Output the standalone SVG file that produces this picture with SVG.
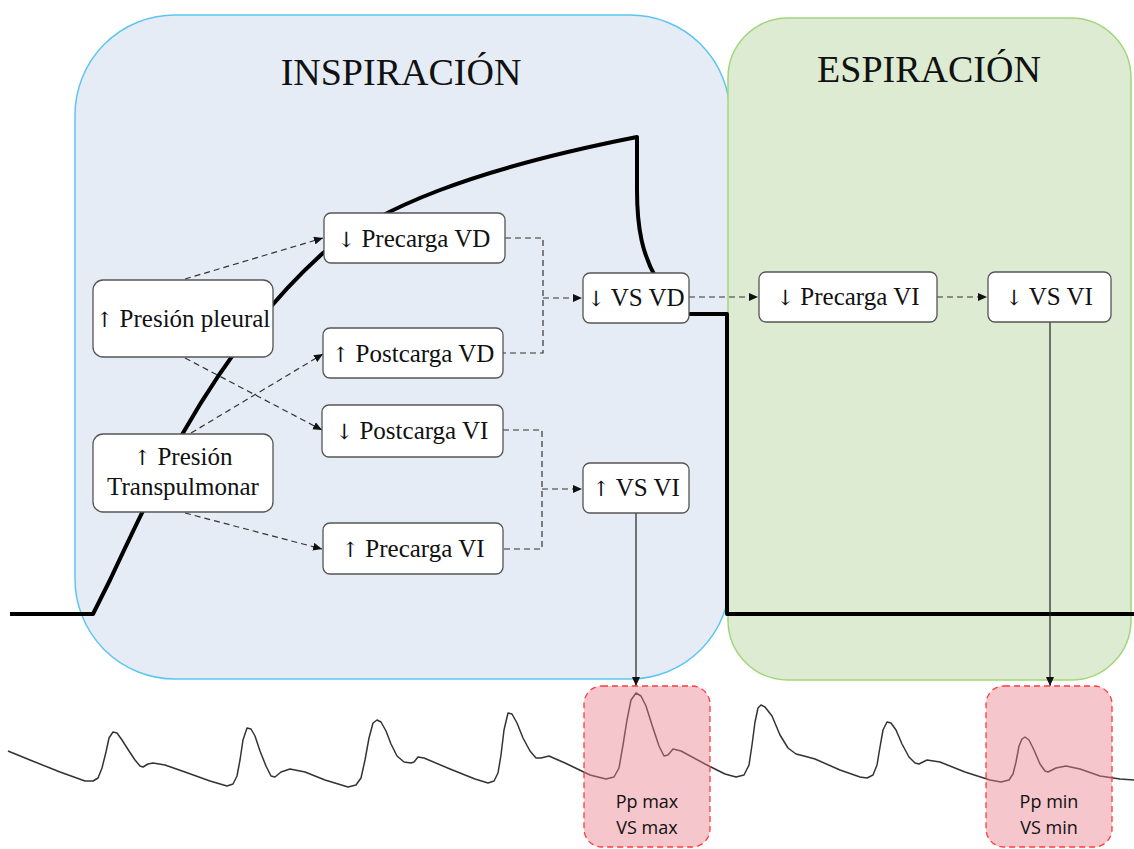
<svg xmlns="http://www.w3.org/2000/svg" width="1134" height="849" viewBox="0 0 1134 849">
<style>
.node{fill:#ffffff;stroke:#555555;stroke-width:1.3}
.lbl{font-family:"Liberation Serif","Times New Roman",serif;font-size:25px;fill:#111;text-anchor:middle}
.ar{font-family:"DejaVu Serif","DejaVu Sans",serif;font-size:21px;fill:#111}
.title{font-family:"Liberation Serif","Times New Roman",serif;font-size:38px;fill:#111;text-anchor:middle}
.dash{fill:none;stroke:#333;stroke-width:1.2;stroke-dasharray:6 4}
.solid{fill:none;stroke:#222;stroke-width:1.2}
.thick{fill:none;stroke:#000;stroke-width:4;stroke-linejoin:round;stroke-linecap:butt}
.wave{fill:none;stroke:#333;stroke-width:1.5;stroke-linejoin:round}
.red{fill:#e8808f;fill-opacity:0.45;stroke:#ff3b3b;stroke-width:1.3;stroke-dasharray:6 4}
.sans{font-family:"Open Sans","DejaVu Sans",sans-serif;font-size:18px;fill:#111;text-anchor:middle}
</style>
<defs>
<marker id="ah" markerUnits="userSpaceOnUse" markerWidth="9" markerHeight="8" refX="9" refY="4" orient="auto">
<path d="M0,0 L9,4 L0,8 z" fill="#111"/>
</marker>
</defs>
<rect width="1134" height="849" fill="#ffffff"/>
<g id="phase-inspiracion">
<rect x="75" y="15" width="655" height="664" rx="100" ry="100" fill="#e5ecf6" stroke="#5cc6f0" stroke-width="1.5"/>
<text class="title" x="401" y="85">INSPIRACIÓN</text>
</g>
<g id="phase-espiracion">
<rect x="728" y="18" width="403" height="662" rx="60" ry="60" fill="#dcebd2" stroke="#a3d67a" stroke-width="1.5"/>
<text class="title" x="929" y="82">ESPIRACIÓN</text>
</g>
<g id="pressure-curve">
<path class="thick" d="M10,614 L93,614 L110,580 C130,538 150,493 183,433 C215,377 262,308 323,253 C380,208 470,170 637,137 L637,190 C637,230 643,255 656,278"/>
<polyline class="thick" points="685,314 727,314 727,614 1134,614"/>
</g>
<g id="waveform">
<polyline class="wave" points="8,751 30,760 60,772 85,781 93,781 98,778 102,768 106,752 109,738 113,732 117,733 122,740 129,751 135,760 140,766 143,767 148,764 153,763 165,765 185,772 210,781 227,786 233,784 237,776 240,760 243,740 247,728 251,729 255,736 260,751 266,766 271,776 275,777 281,772 290,769 305,772 325,780 348,787 356,785 361,778 365,760 369,738 373,723 377,720 381,722 386,731 391,744 397,756 404,762 411,763 414,762 418,757 424,758 450,769 475,779 488,783 494,781 498,773 501,755 504,730 508,713 512,714 517,723 523,738 530,751 536,758 541,758 549,756 565,763 590,775 606,779 614,777 619,768 623,745 627,720 631,700 636,693 641,696 646,706 652,725 659,746 664,756 668,755 673,749 681,751 705,764 725,774 736,777 744,775 749,765 752,745 755,722 758,708 761,705 765,707 772,716 780,735 788,748 796,754 804,756 815,759 840,770 860,777 867,778 873,775 877,765 880,747 883,730 887,722 891,723 896,730 902,744 909,757 915,763 919,764 927,760 940,762 965,772 990,780 1001,782 1009,780 1013,774 1016,762 1019,746 1022,739 1025,737 1029,740 1034,750 1040,764 1045,771 1048,772 1056,768 1066,766 1080,769 1100,776 1120,779 1134,780"/>
</g>
<g id="connectors">
<line class="dash" x1="185" y1="279" x2="323" y2="238" marker-end="url(#ah)"/>
<line class="dash" x1="185" y1="358" x2="322" y2="430" marker-end="url(#ah)"/>
<line class="dash" x1="191" y1="433" x2="323" y2="354" marker-end="url(#ah)"/>
<line class="dash" x1="185" y1="513" x2="322" y2="549" marker-end="url(#ah)"/>
<polyline class="dash" points="505,238 543,238 543,353 503,353"/>
<line class="dash" x1="543" y1="298" x2="582" y2="298" marker-end="url(#ah)"/>
<polyline class="dash" points="503,430 542,430 542,549 503,549"/>
<line class="dash" x1="542" y1="489" x2="582" y2="489" marker-end="url(#ah)"/>
<line class="dash" x1="689" y1="297" x2="758" y2="297" marker-end="url(#ah)"/>
<line class="dash" x1="937" y1="297" x2="987" y2="297" marker-end="url(#ah)"/>
<line class="solid" x1="636" y1="513" x2="636" y2="686" marker-end="url(#ah)"/>
<line class="solid" x1="1050" y1="322" x2="1050" y2="686" marker-end="url(#ah)"/>
</g>
<g id="n-presion-pleural">
<rect class="node" x="93" y="280" width="180" height="77" rx="10"/>
<text class="lbl" x="183" y="327"><tspan class="ar">↑</tspan> Presión pleural</text>
</g>
<g id="n-presion-transpulmonar">
<rect class="node" x="93" y="434" width="180" height="78" rx="10"/>
<text class="lbl" x="183" y="465"><tspan class="ar">↑</tspan> Presión</text>
<text class="lbl" x="183" y="495">Transpulmonar</text>
</g>
<g id="n-precarga-vd">
<rect class="node" x="324" y="213" width="181" height="50" rx="7"/>
<text class="lbl" x="414" y="247"><tspan class="ar">↓</tspan> Precarga VD</text>
</g>
<g id="n-postcarga-vd">
<rect class="node" x="323" y="328" width="180" height="50" rx="7"/>
<text class="lbl" x="413" y="362"><tspan class="ar">↑</tspan> Postcarga VD</text>
</g>
<g id="n-postcarga-vi">
<rect class="node" x="322" y="405" width="181" height="52" rx="7"/>
<text class="lbl" x="412" y="439"><tspan class="ar">↓</tspan> Postcarga VI</text>
</g>
<g id="n-precarga-vi-insp">
<rect class="node" x="323" y="523" width="180" height="51" rx="7"/>
<text class="lbl" x="413" y="557"><tspan class="ar">↑</tspan> Precarga VI</text>
</g>
<g id="n-vs-vd">
<rect class="node" x="583" y="273" width="106" height="50" rx="7"/>
<text class="lbl" x="636" y="306"><tspan class="ar">↓</tspan> VS VD</text>
</g>
<g id="n-vs-vi-insp">
<rect class="node" x="583" y="463" width="106" height="50" rx="7"/>
<text class="lbl" x="636" y="496"><tspan class="ar">↑</tspan> VS VI</text>
</g>
<g id="n-precarga-vi-esp">
<rect class="node" x="759" y="272" width="178" height="50" rx="7"/>
<text class="lbl" x="848" y="305"><tspan class="ar">↓</tspan> Precarga VI</text>
</g>
<g id="n-vs-vi-esp">
<rect class="node" x="988" y="272" width="123" height="50" rx="7"/>
<text class="lbl" x="1049" y="305"><tspan class="ar">↓</tspan> VS VI</text>
</g>
<g id="n-pp-max">
<rect class="red" x="584" y="686" width="126" height="161" rx="18"/>
<text class="sans" x="647" y="808">Pp max</text>
<text class="sans" x="647" y="834">VS max</text>
</g>
<g id="n-pp-min">
<rect class="red" x="986" y="686" width="126" height="161" rx="18"/>
<text class="sans" x="1049" y="808">Pp min</text>
<text class="sans" x="1049" y="834">VS min</text>
</g>
</svg>
